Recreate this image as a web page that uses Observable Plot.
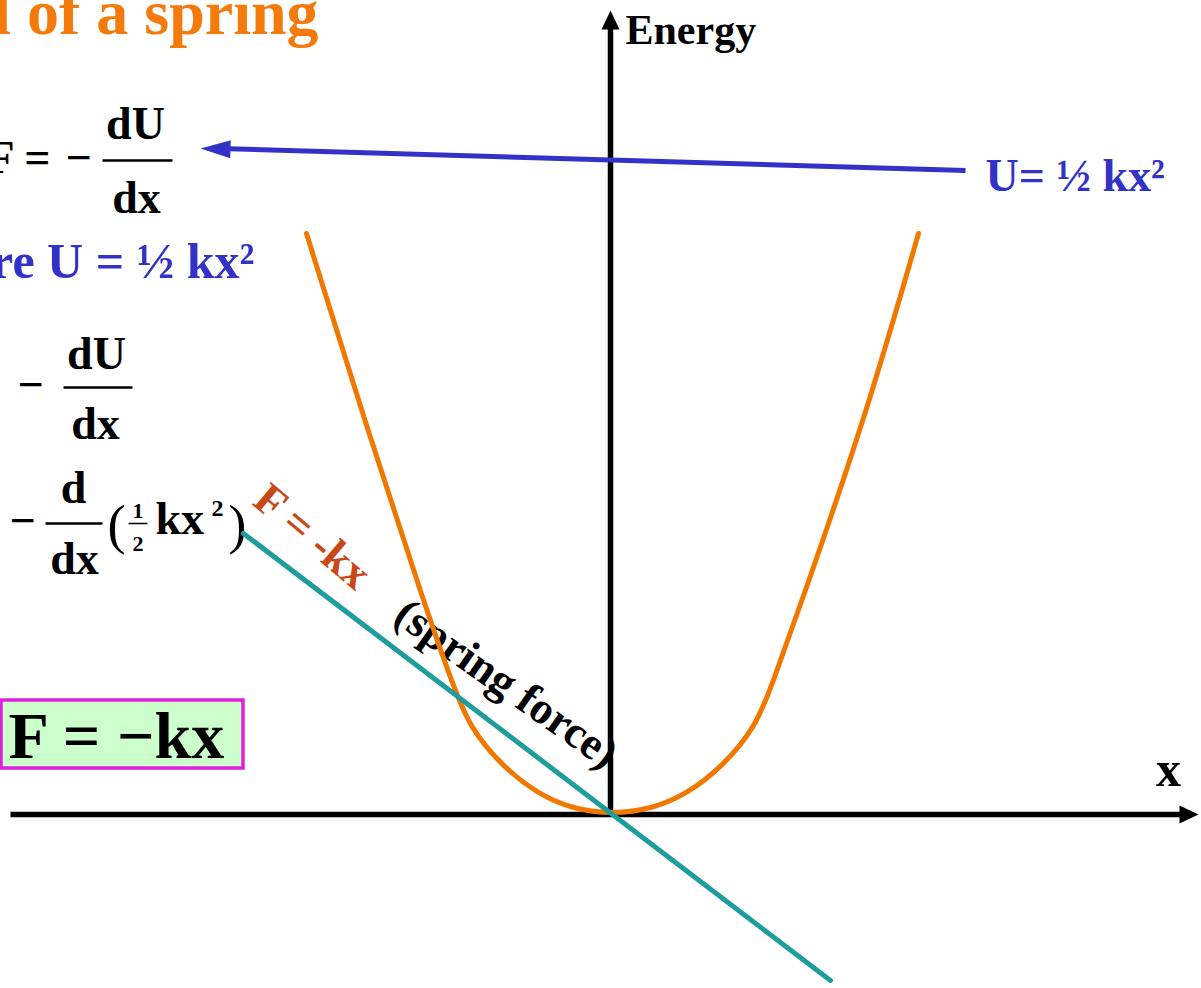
<!DOCTYPE html>
<html>
<head>
<meta charset="utf-8">
<script src="https://cdn.jsdelivr.net/npm/d3@7"></script>
<script src="https://cdn.jsdelivr.net/npm/@observablehq/plot@0.6"></script>
<style>
  html, body { margin: 0; padding: 0; background: #ffffff; }
  #chart svg { display: block; }
</style>
</head>
<body>
<div id="chart"></div>
<script>
// ---- data (chart units: 1 unit of x, 1 unit of energy) ----
// Potential energy curve U = ½ k x²
const energyX = [-3.06, -2.48, -1.86, -1.60, -1.43, -1.09, -0.75, -0.42, 0, 0.41, 0.75, 1.09, 1.43, 1.60, 1.86, 2.52, 3.06];
const energyU = [5.81, 3.94, 2.04, 1.31, 0.87, 0.47, 0.21, 0.06, 0, 0.06, 0.21, 0.47, 0.87, 1.31, 2.04, 3.94, 5.81];
// Spring force F = -kx
const forceX = [-3.69, 2.18];
const forceF = [2.81, -1.66];

// Axes (x axis and Energy axis)
const axisLines = [
  {x1: -6.02, y1: 0, x2: 5.70, y2: 0},
  {x1: -0.02, y1: 0, x2: -0.02, y2: 7.88}
];
const axisTipRight = [{x: 5.86, y: 0}];
const axisTipUp = [{x: -0.02, y: 8.04}];

// Arrow from the "U= ½ kx²" label to the formula
const arrowTail = {x: 3.53, y: 6.44};
const arrowTip = {x: -4.12, y: 6.66};

// Boxed result
const resultBox = [{x1: -6.11, x2: -3.69, y1: 1.14, y2: 0.46}];

// Labels
const titleLabels = [{text: "Potential of a spring", x: -2.94, y: 7.81}];
const energyLabel = [{text: "Energy", x: 0.13, y: 7.71}];
const xLabel = [{text: "x", x: 5.56, y: 0.29}];
const blueRight = [{text: "U= ½ kx²", x: 3.73, y: 6.24}];
const blueLeft = [{text: "where U = ½ kx²", x: -3.58, y: 5.37}];
const mathLabels = [
  // F = − dU/dx
  {text: "F =", x: -5.62, y: 6.42, anchor: "end", size: 46},
  {text: "−", x: -5.34, y: 6.42, anchor: "middle", size: 46},
  {text: "dU", x: -4.77, y: 6.76, anchor: "middle", size: 46},
  {text: "dx", x: -4.76, y: 6.02, anchor: "middle", size: 46},
  // − dU/dx
  {text: "−", x: -5.82, y: 4.15, anchor: "middle", size: 46},
  {text: "dU", x: -5.16, y: 4.46, anchor: "middle", size: 46},
  {text: "dx", x: -5.17, y: 3.76, anchor: "middle", size: 46},
  // − d/dx (½ kx²)
  {text: "−", x: -5.90, y: 2.79, anchor: "middle", size: 46},
  {text: "d", x: -5.39, y: 3.12, anchor: "middle", size: 46},
  {text: "dx", x: -5.38, y: 2.41, anchor: "middle", size: 46},
  {text: "1", x: -4.745, y: 2.97, anchor: "middle", size: 22},
  {text: "2", x: -4.745, y: 2.64, anchor: "middle", size: 22},
  {text: "kx", x: -4.57, y: 2.81, anchor: "start", size: 46},
  {text: "2", x: -4.01, y: 2.99, anchor: "start", size: 24},
  // boxed F = −kx
  {text: "F = −kx", x: -6.04, y: 0.57, anchor: "start", size: 66}
];
const parenLabels = [
  {text: "(", x: -4.96, y: 2.72},
  {text: ")", x: -3.75, y: 2.72}
];
const fractionBars = [
  {x1: -5.10, x2: -4.40, y: 6.54, w: 2.5},
  {x1: -5.49, x2: -4.80, y: 4.27, w: 2.5},
  {x1: -5.67, x2: -5.10, y: 2.91, w: 2.5},
  {x1: -4.84, x2: -4.65, y: 2.91, w: 1.5}
];
const forceLabels = [
  {text: "F = -kx", x: -3.00, y: 2.78, rotate: 40, color: "#c8481a"},
  {text: "(spring force)", x: -1.06, y: 1.31, rotate: 35, color: "#000000"}
];

// ---- arrowhead symbols (tip at the anchor point) ----
function headSymbol(angleDeg, len, half) {
  const a = angleDeg * Math.PI / 180, c = Math.cos(a), s = Math.sin(a);
  const pt = (px, py) => [px * c - py * s, px * s + py * c];
  return {
    draw(ctx) {
      const p0 = pt(0, 0), p1 = pt(-len, -half), p2 = pt(-len, half);
      ctx.moveTo(p0[0], p0[1]);
      ctx.lineTo(p1[0], p1[1]);
      ctx.lineTo(p2[0], p2[1]);
      ctx.closePath();
    }
  };
}
// equal pixel size per unit on both axes, so screen angle follows the data
const blueAngle = Math.atan2(-(arrowTip.y - arrowTail.y), arrowTip.x - arrowTail.x) * 180 / Math.PI;

const energyData = energyX.map((x, i) => ({x, y: energyU[i]}));
const forceData = forceX.map((x, i) => ({x, y: forceF[i]}));
const FONT = "'Liberation Serif', 'Times New Roman', serif";
const BLUE = "#3232c8";

const chart = Plot.plot({
  width: 1201,
  height: 988,
  margin: 0,
  x: {domain: [-6.12, 5.89], axis: null},
  y: {domain: [-1.74, 8.14], axis: null},
  style: {background: "#ffffff", fontFamily: FONT, overflow: "hidden"},
  marks: [
    Plot.rect(resultBox, {x1: "x1", x2: "x2", y1: "y1", y2: "y2", fill: "#ccffcc", stroke: "#e020e0", strokeWidth: 3.5}),
    Plot.link(axisLines, {x1: "x1", y1: "y1", x2: "x2", y2: "y2", stroke: "#000", strokeWidth: 5.5}),
    Plot.dot(axisTipRight, {x: "x", y: "y", symbol: headSymbol(0, 19, 9), fill: "#000", stroke: null, r: 5}),
    Plot.dot(axisTipUp, {x: "x", y: "y", symbol: headSymbol(-90, 19, 9), fill: "#000", stroke: null, r: 5}),
    Plot.text(titleLabels, {x: "x", y: "y", text: "text", textAnchor: "end", lineAnchor: "bottom", fontSize: 64, fontWeight: "bold", fill: "#f47a0c"}),
    Plot.text(energyLabel, {x: "x", y: "y", text: "text", textAnchor: "start", lineAnchor: "bottom", fontSize: 42, fontWeight: "bold", fill: "#000"}),
    Plot.text(xLabel, {x: "x", y: "y", text: "text", textAnchor: "middle", lineAnchor: "bottom", fontSize: 50, fontWeight: "bold", fill: "#000"}),
    Plot.text(blueRight, {x: "x", y: "y", text: "text", textAnchor: "start", lineAnchor: "bottom", fontSize: 46, fontWeight: "bold", fill: BLUE}),
    Plot.text(blueLeft, {x: "x", y: "y", text: "text", textAnchor: "end", lineAnchor: "bottom", fontSize: 50, fontWeight: "bold", fill: BLUE}),
    ...["start", "middle", "end"].map(a =>
      Plot.text(mathLabels.filter(d => d.anchor === a), {x: "x", y: "y", text: "text", textAnchor: a, lineAnchor: "bottom", fontSize: "size", fontWeight: "bold", fill: "#000"})
    ),
    Plot.text(parenLabels, {x: "x", y: "y", text: "text", textAnchor: "middle", lineAnchor: "bottom", fontSize: 54, fontWeight: "normal", fill: "#000"}),
    Plot.link(fractionBars, {x1: "x1", x2: "x2", y1: "y", y2: "y", stroke: "#000", strokeWidth: "w"}),
    Plot.link([{x1: arrowTail.x, y1: arrowTail.y, x2: arrowTip.x + 0.2, y2: arrowTip.y}], {x1: "x1", y1: "y1", x2: "x2", y2: "y2", stroke: BLUE, strokeWidth: 5}),
    Plot.dot([arrowTip], {x: "x", y: "y", symbol: headSymbol(blueAngle, 30, 9), fill: BLUE, stroke: null, r: 5}),
    ...forceLabels.map(d =>
      Plot.text([d], {x: "x", y: "y", text: "text", textAnchor: "middle", lineAnchor: "middle", rotate: d.rotate, fontSize: 45, fontWeight: "bold", fill: d.color})
    ),
    Plot.line(energyData, {x: "x", y: "y", stroke: "#f07800", strokeWidth: 5, curve: "basis"}),
    Plot.line(forceData, {x: "x", y: "y", stroke: "#1f9c9c", strokeWidth: 5})
  ]
});
document.getElementById("chart").appendChild(chart);
</script>
</body>
</html>
